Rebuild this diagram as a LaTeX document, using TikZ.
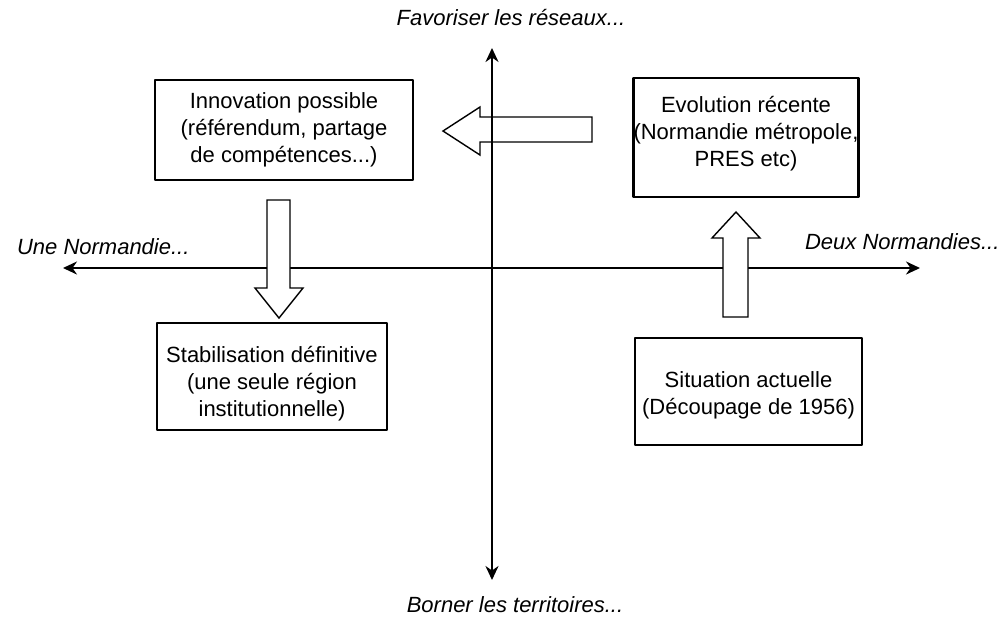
\documentclass[tikz,border=0pt]{standalone}
\usepackage{fontspec}
\setmainfont{Liberation Sans}
\usetikzlibrary{arrows.meta}

\begin{document}
\begin{tikzpicture}[x=0.5pt,y=-0.5pt,>={Stealth[length=7pt,width=6.5pt]},
	font=\fontsize{11}{13.5}\selectfont, line join=round, line cap=round,
	boite/.style={draw,line width=1.2pt,align=center,inner sep=0pt},
	fleche/.style={draw,line width=0.7pt,line cap=butt,line join=miter,fill=white},
	etiq/.style={font=\fontsize{11}{13.5}\selectfont\itshape}]
	\useasboundingbox (0,0) rectangle (1007,629);
	\def\xo{492} \def\yo{268} % origine
	\coordinate (gauche) at (63,\yo); \coordinate (droite) at (920,\yo);
	\coordinate (haut) at (\xo,48); \coordinate (bas) at (\xo,580);
	% grosse fleche vers la gauche (sous l'axe)
	\path[fleche] (592,117)--(480,117)--(480,107)--(443,131)--(480,155)--(480,142)--(592,142)--cycle;
	\draw[<->,line width=1.4pt] (gauche)--(droite);
	\draw[<->,line width=1.4pt] (bas)--(haut);
	% cadres
	\node[boite,minimum width=129pt,minimum height=50pt] (innov) at (284,130)
		{Innovation possible\\(référendum, partage\\de compétences...)};
	\node[boite,minimum width=111pt,minimum height=59.5pt] (evol) at (746,137.5)
		{Evolution récente\\(Normandie métropole,\\PRES etc)\\[-7pt]};
	\node[boite,minimum width=115pt,minimum height=53.5pt] (stab) at (272,376.5)
		{\rule{0pt}{15pt}Stabilisation définitive\\(une seule région\\institutionnelle)};
	\node[boite,minimum width=113.5pt,minimum height=53.5pt] (situ) at (748.5,391.5)
		{\rule{0pt}{12pt}Situation actuelle\\(Découpage de 1956)};
	% grosses fleches
	\path[fleche] (267,200)--(290,200)--(290,288)--(303,288)--(279,318)--(255,288)--(267,288)--cycle;
	\path[fleche] (723,317)--(748,317)--(748,238)--(760,238)--(736,212)--(712,238)--(723,238)--cycle;
	% textes des axes
	\node[etiq] (reseaux) at (511,17) {Favoriser les réseaux...};
	\node[etiq,anchor=west] (une) at (10,247) {Une Normandie...};
	\node[etiq,anchor=west] (deux) at (798,242) {Deux Normandies...};
	\node[etiq] (borner) at (515,605) {Borner les territoires...};
\end{tikzpicture}
\end{document}
